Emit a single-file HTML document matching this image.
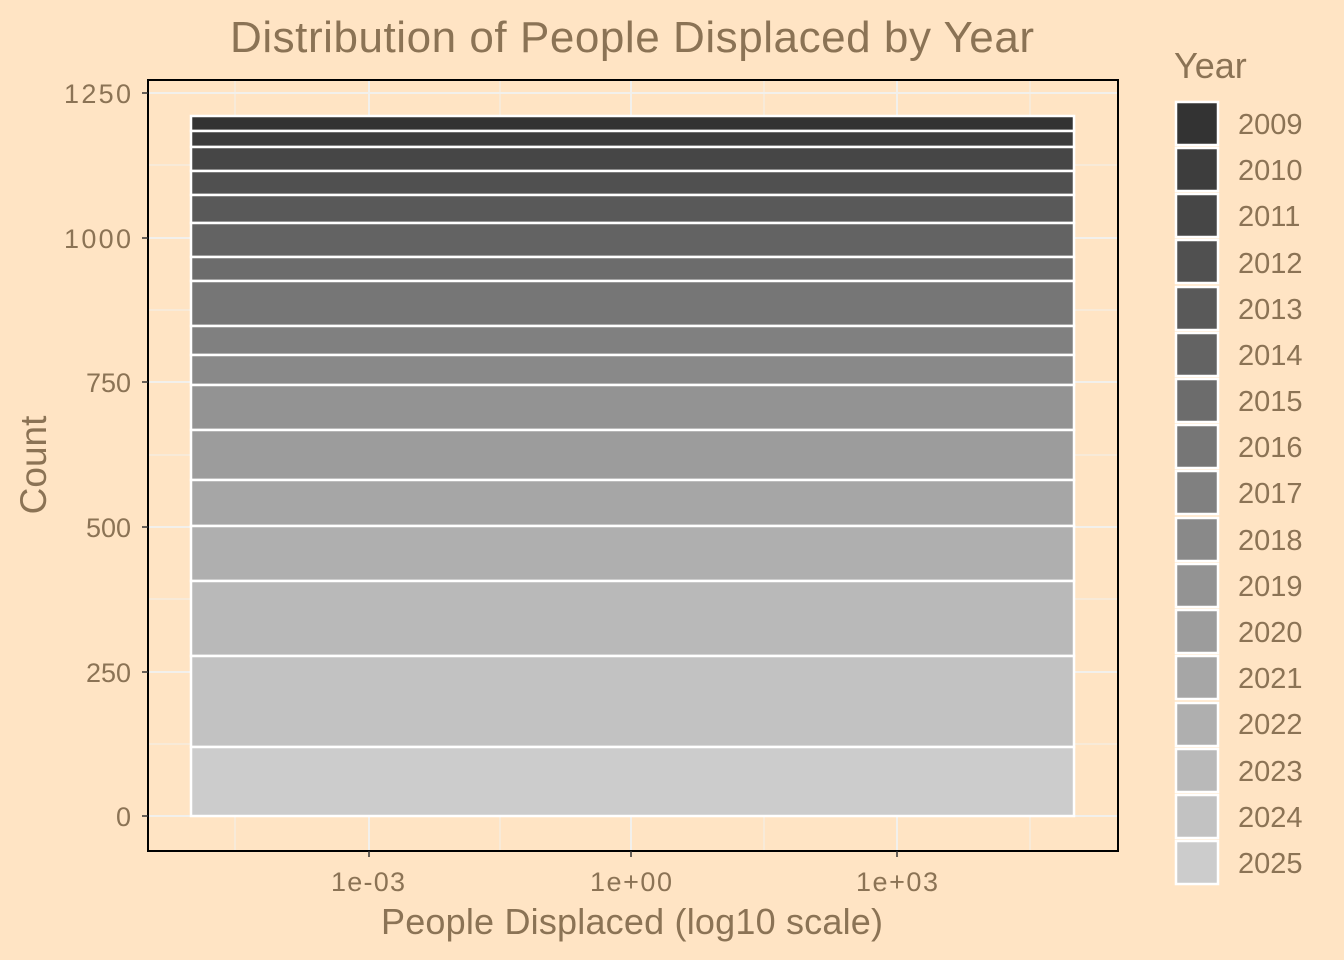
<!DOCTYPE html>
<html><head><meta charset="utf-8"><style>html,body{margin:0;padding:0;background:#FFE4C4;}svg{display:block}text{font-family:"Liberation Sans",sans-serif;fill:#8B7355}</style></head><body>
<svg width="1344" height="960" viewBox="0 0 1344 960" xmlns="http://www.w3.org/2000/svg">
<rect width="1344" height="960" fill="#FFE4C4"/>
<g stroke="#F2F0EC" stroke-width="1">
<line x1="148" x2="1118" y1="165" y2="165"/><line x1="148" x2="1118" y1="310" y2="310"/><line x1="148" x2="1118" y1="455" y2="455"/><line x1="148" x2="1118" y1="599" y2="599"/><line x1="148" x2="1118" y1="744" y2="744"/>
<line y1="80" y2="851" x1="235" x2="235"/><line y1="80" y2="851" x1="500" x2="500"/><line y1="80" y2="851" x1="764" x2="764"/><line y1="80" y2="851" x1="1030" x2="1030"/>
</g>
<g stroke="#F2F0EC" stroke-width="2">
<line x1="148" x2="1118" y1="93" y2="93"/><line x1="148" x2="1118" y1="238" y2="238"/><line x1="148" x2="1118" y1="382" y2="382"/><line x1="148" x2="1118" y1="527" y2="527"/><line x1="148" x2="1118" y1="672" y2="672"/><line x1="148" x2="1118" y1="816" y2="816"/>
<line y1="80" y2="851" x1="369" x2="369"/><line y1="80" y2="851" x1="631" x2="631"/><line y1="80" y2="851" x1="897" x2="897"/>
</g>
<g stroke="#fff" stroke-width="2.5">
<rect x="191" y="116" width="883" height="15" fill="#333333"/>
<rect x="191" y="131" width="883" height="16" fill="#3D3D3D"/>
<rect x="191" y="147" width="883" height="24" fill="#464646"/>
<rect x="191" y="171" width="883" height="24" fill="#505050"/>
<rect x="191" y="195" width="883" height="28" fill="#595959"/>
<rect x="191" y="223" width="883" height="34" fill="#636363"/>
<rect x="191" y="257" width="883" height="24" fill="#6C6C6C"/>
<rect x="191" y="281" width="883" height="45" fill="#767676"/>
<rect x="191" y="326" width="883" height="29" fill="#808080"/>
<rect x="191" y="355" width="883" height="30" fill="#898989"/>
<rect x="191" y="385" width="883" height="45" fill="#939393"/>
<rect x="191" y="430" width="883" height="50" fill="#9C9C9C"/>
<rect x="191" y="480" width="883" height="46" fill="#A6A6A6"/>
<rect x="191" y="526" width="883" height="55" fill="#AFAFAF"/>
<rect x="191" y="581" width="883" height="75" fill="#B9B9B9"/>
<rect x="191" y="656" width="883" height="91" fill="#C2C2C2"/>
<rect x="191" y="747" width="883" height="69" fill="#CCCCCC"/>
</g>
<rect x="148" y="80" width="970" height="771" fill="none" stroke="#000" stroke-width="2"/>
<g stroke="#333" stroke-width="1.5">
<line x1="142" x2="148" y1="93" y2="93"/><line x1="142" x2="148" y1="238" y2="238"/><line x1="142" x2="148" y1="382" y2="382"/><line x1="142" x2="148" y1="527" y2="527"/><line x1="142" x2="148" y1="672" y2="672"/><line x1="142" x2="148" y1="816" y2="816"/>
<line y1="851" y2="857" x1="369" x2="369"/><line y1="851" y2="857" x1="631" x2="631"/><line y1="851" y2="857" x1="897" x2="897"/>
</g>
<g font-size="27" text-anchor="end">
<text x="131" y="103" textLength="67">1250</text><text x="131" y="248" textLength="67">1000</text><text x="131" y="392">750</text><text x="131" y="537">500</text><text x="131" y="682">250</text><text x="131" y="826">0</text>
</g>
<g font-size="27" text-anchor="middle">
<text x="368" y="891" textLength="74">1e-03</text><text x="631" y="891" textLength="82">1e+00</text><text x="897" y="891" textLength="82">1e+03</text>
</g>
<text x="632" y="934" font-size="36" text-anchor="middle" textLength="502">People Displaced (log10 scale)</text>
<text transform="translate(46,465) rotate(-90)" font-size="37" text-anchor="middle">Count</text>
<text x="632" y="52" font-size="44" text-anchor="middle" textLength="804">Distribution of People Displaced by Year</text>
<text x="1174" y="78" font-size="36">Year</text>
<g stroke="#fff" stroke-width="2.5">
<rect x="1176" y="102" width="42" height="43" fill="#333333"/>
<rect x="1176" y="148" width="42" height="43" fill="#3D3D3D"/>
<rect x="1176" y="194" width="42" height="43" fill="#464646"/>
<rect x="1176" y="240" width="42" height="43" fill="#505050"/>
<rect x="1176" y="287" width="42" height="43" fill="#595959"/>
<rect x="1176" y="333" width="42" height="43" fill="#636363"/>
<rect x="1176" y="379" width="42" height="43" fill="#6C6C6C"/>
<rect x="1176" y="425" width="42" height="43" fill="#767676"/>
<rect x="1176" y="471" width="42" height="43" fill="#808080"/>
<rect x="1176" y="518" width="42" height="43" fill="#898989"/>
<rect x="1176" y="564" width="42" height="43" fill="#939393"/>
<rect x="1176" y="610" width="42" height="43" fill="#9C9C9C"/>
<rect x="1176" y="656" width="42" height="43" fill="#A6A6A6"/>
<rect x="1176" y="703" width="42" height="43" fill="#AFAFAF"/>
<rect x="1176" y="749" width="42" height="43" fill="#B9B9B9"/>
<rect x="1176" y="795" width="42" height="43" fill="#C2C2C2"/>
<rect x="1176" y="841" width="42" height="43" fill="#CCCCCC"/>
</g>
<g font-size="29">
<text x="1238" y="134">2009</text><text x="1238" y="180">2010</text><text x="1238" y="226">2011</text><text x="1238" y="273">2012</text><text x="1238" y="319">2013</text><text x="1238" y="365">2014</text><text x="1238" y="411">2015</text><text x="1238" y="457">2016</text><text x="1238" y="503">2017</text><text x="1238" y="550">2018</text><text x="1238" y="596">2019</text><text x="1238" y="642">2020</text><text x="1238" y="688">2021</text><text x="1238" y="734">2022</text><text x="1238" y="781">2023</text><text x="1238" y="827">2024</text><text x="1238" y="873">2025</text>
</g>
</svg>
</body></html>
